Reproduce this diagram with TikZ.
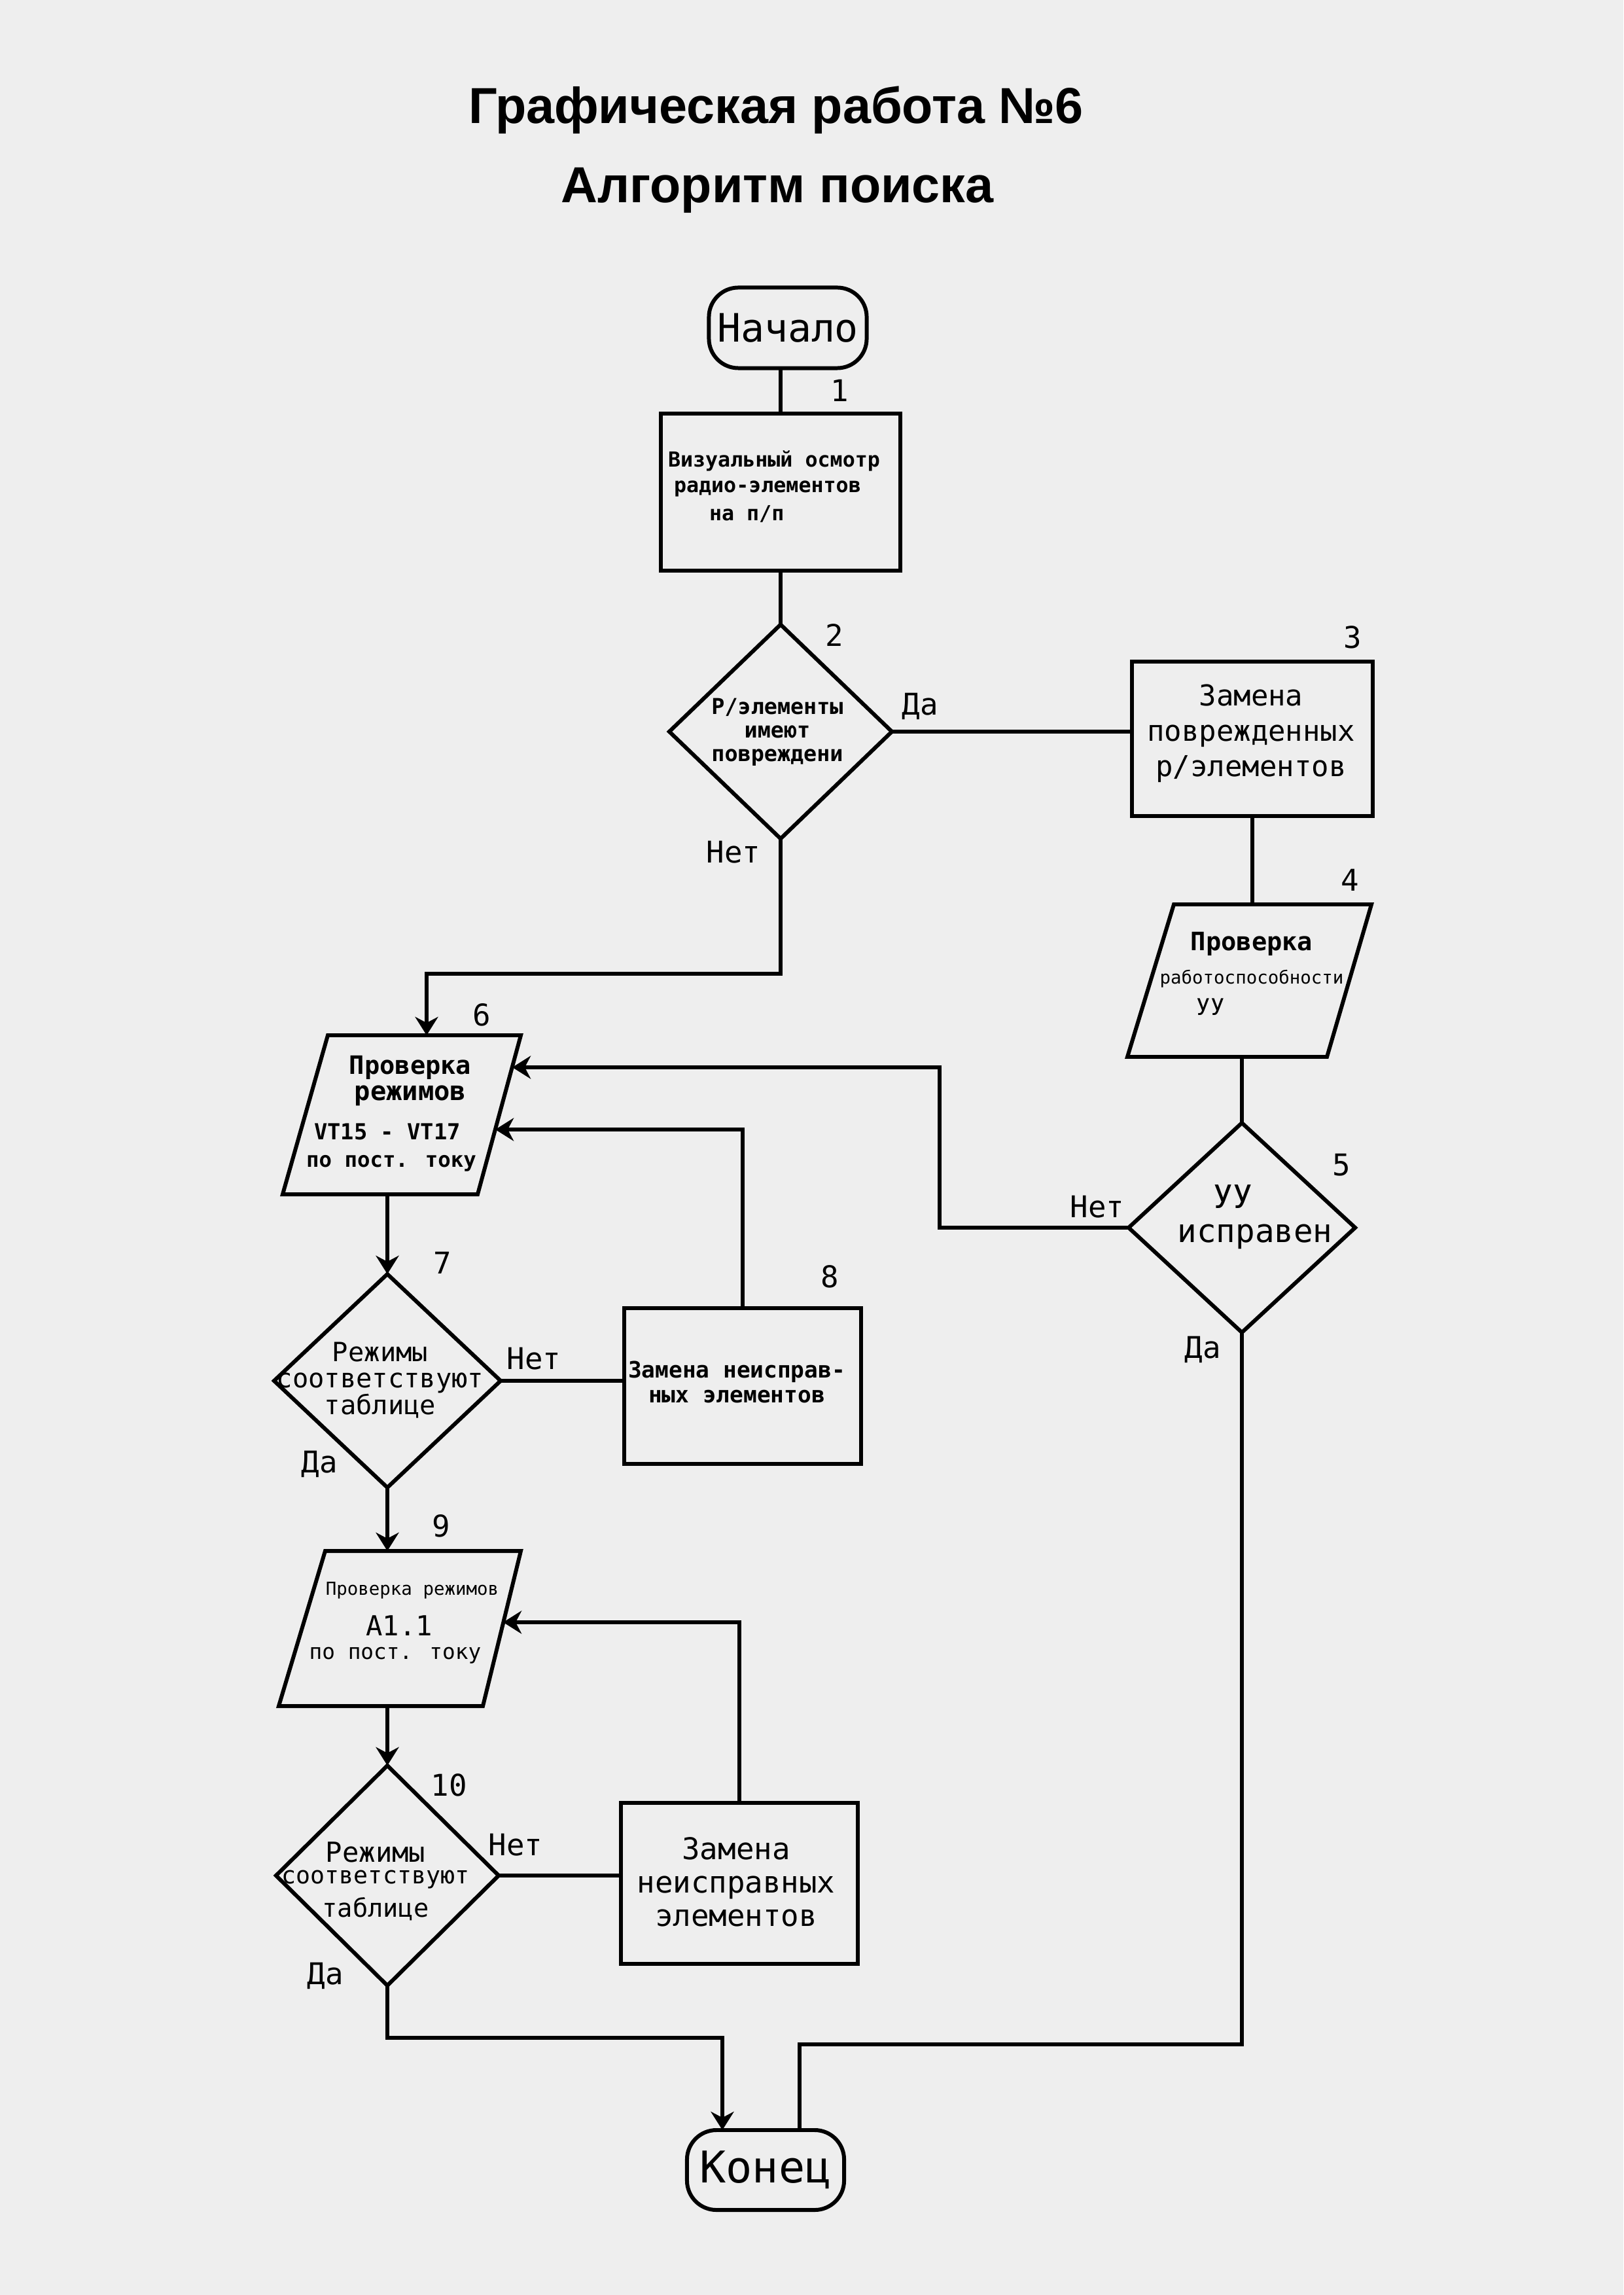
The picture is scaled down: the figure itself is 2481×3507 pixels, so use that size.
\documentclass[tikz,border=0pt]{standalone}
\usepackage{fontspec}
\setmainfont{DejaVu Sans Mono}
\newfontfamily\titlefont{Liberation Sans}
\usetikzlibrary{shapes.geometric,arrows.meta}
\definecolor{bg}{RGB}{238,238,238}
\newcommand{\fs}[1]{\fontsize{#1}{#1}\selectfont}
\begin{document}
\begin{tikzpicture}[x=0.01cm,y=-0.01cm,
  every node/.style={inner sep=0pt,outer sep=0pt},
  conn/.style={line width=1.7pt},
  arr/.style={conn,-{Stealth[length=8pt,width=10pt]}},
  blk/.style={draw,rectangle,line width=1.7pt},
  dia/.style={draw,diamond,line width=1.7pt},
  term/.style={draw,rectangle,rounded corners=0.45cm,line width=1.7pt},
  lbl/.style={font=\fs{13}},
  ttl/.style={font=\titlefont\bfseries\fs{22}}]
\fill[bg] (0,0) rectangle (2481,3507);
\useasboundingbox (0,0) rectangle (2481,3507);

% titles
\node[ttl] (t1) at (1186,168) {Графическая работа №6};
\node[ttl] (t2) at (1188,291) {Алгоритм поиска};

% start
\node[term,minimum width=2.41cm,minimum height=1.23cm,font=\fs{17}] (start) at (1204,501) {Начало};

% box 1
\node[blk,minimum width=3.66cm,minimum height=2.40cm] (b1) at (1193,752) {};
\node[anchor=west,font=\bfseries\fs{9}] (b1t1) at (1021,704) {Визуальный осмотр};
\node[anchor=west,font=\bfseries\fs{9}] (b1t2) at (1030,747) {радио-элементов};
\node[anchor=west,font=\bfseries\fs{9}] (b1t3) at (1084,785) {на п/п};
\node[lbl] (n1) at (1283,597) {1};
\draw[conn] (start.south -| b1.north) -- (b1.north);

% diamond 2
\node[dia,minimum width=3.40cm,minimum height=3.27cm] (d2) at (1193,1118) {};
\node[align=center,font=\bfseries\fontsize{9.5}{10.3}\selectfont] (d2t) at (1188,1119) {Р/элементы\\имеют\\повреждени};
\node[lbl] (n2) at (1275,971) {2};
\node[lbl] (da2) at (1406,1079) {Да};
\node[lbl] (net2) at (1121,1302) {Нет};
\draw[conn] (b1.south) -- (d2.north);

% box 3
\node[blk,minimum width=3.68cm,minimum height=2.36cm] (b3) at (1914,1129) {};
\node[align=center,font=\fontsize{12.5}{15.4}\selectfont] (b3t) at (1912,1121) {Замена\\поврежденных\\р/элементов};
\node[lbl] (n3) at (2067,974) {3};
\draw[conn] (d2.east) -- (d2.east -| b3.west);

% box 4 (parallelogram)
\coordinate (p4a) at (1794,1382);
\coordinate (p4b) at (2096,1382);
\coordinate (p4c) at (2028,1615);
\coordinate (p4d) at (1723,1615);
\coordinate (p4n) at (1914,1382);
\coordinate (p4s) at (1898,1615);
\draw[conn] (p4a) -- (p4b) -- (p4c) -- (p4d) -- cycle;
\node[font=\bfseries\fs{11}] (b4t1) at (1913,1442) {Проверка};
\node[font=\fs{7.8}] (b4t2) at (1913,1496) {работоспособности};
\node[font=\fs{10}] (b4t3) at (1850,1539) {УУ};
\node[lbl] (n4) at (2063,1345) {4};
\draw[conn] (b3.south) -- (p4n);

% diamond 5
\node[dia,minimum width=3.46cm,minimum height=3.20cm] (d5) at (1898,1876) {};
\node[font=\fs{14}] (d5t1) at (1884,1829) {УУ};
\node[font=\fs{14}] (d5t2) at (1918,1890) {исправен};
\node[lbl] (n5) at (2050,1780) {5};
\node[lbl] (net5) at (1677,1844) {Нет};
\node[lbl] (da5) at (1838,2062) {Да};
\draw[conn] (p4s) -- (d5.north);

% box 6 (parallelogram)
\coordinate (p6a) at (501,1582);
\coordinate (p6b) at (796,1582);
\coordinate (p6c) at (730,1825);
\coordinate (p6d) at (432,1825);
\coordinate (p6n) at (652,1582);
\coordinate (p6s) at (592,1825);
\coordinate (p6r1) at (783,1631);
\coordinate (p6r2) at (757,1726);
\draw[conn] (p6a) -- (p6b) -- (p6c) -- (p6d) -- cycle;
\node[font=\bfseries\fs{11}] (b6t1) at (627,1631) {Проверка};
\node[font=\bfseries\fs{11.5}] (b6t2) at (627,1674) {режимов};
\node[font=\bfseries\fs{9.6}] (b6t3) at (592,1729) {VT15 - VT17};
\node[font=\bfseries\fs{9.2}] (b6t4) at (598,1778) {по пост. току};
\node[lbl] (n6) at (736,1551) {6};

\coordinate (j2) at (652,1488);
\draw[arr] (d2.south) |- (j2) -- (p6n);
\coordinate (j5) at (1436,1631);
\draw[arr] (d5.west) -| (j5) -- (p6r1);

% diamond 7
\node[dia,minimum width=3.46cm,minimum height=3.26cm] (d7) at (592,2110) {};
\node[align=center,font=\fontsize{11.5}{11.4}\selectfont] (d7t) at (581,2109) {Режимы\\соответствуют\\таблице};
\node[lbl] (n7) at (676,1930) {7};
\node[lbl] (net7) at (816,2076) {Нет};
\node[lbl] (da7) at (488,2237) {Да};
\draw[arr] (p6s) -- (d7.north);

% box 8
\node[blk,minimum width=3.62cm,minimum height=2.38cm] (b8) at (1135,2118) {};
\node[align=center,font=\bfseries\fontsize{9.8}{11}\selectfont] (b8t) at (1126,2112) {Замена неисправ-\\ных элементов};
\node[lbl] (n8) at (1268,1951) {8};
\draw[conn] (d7.east) -- (d7.east -| b8.west);
\draw[arr] (b8.north) |- (p6r2);

% box 9 (parallelogram)
\coordinate (p9a) at (497,2370);
\coordinate (p9b) at (796,2370);
\coordinate (p9c) at (738,2607);
\coordinate (p9d) at (426,2607);
\coordinate (p9n) at (592,2370);
\coordinate (p9s) at (592,2607);
\coordinate (p9r) at (769,2479);
\draw[conn] (p9a) -- (p9b) -- (p9c) -- (p9d) -- cycle;
\node[font=\fs{7.8}] (b9t1) at (630,2430) {Проверка режимов};
\node[font=\fs{12}] (b9t2) at (610,2484) {А1.1};
\node[font=\fs{9.3}] (b9t3) at (604,2530) {по пост. току};
\node[lbl] (n9) at (674,2332) {9};
\draw[arr] (d7.south) -- (p9n);

% diamond 10
\node[dia,minimum width=3.40cm,minimum height=3.36cm] (d10) at (592,2866) {};
\node[font=\fs{12}] (d10t1) at (574,2830) {Режимы};
\node[font=\fs{10.4}] (d10t2) at (574,2872) {соответствуют};
\node[font=\fs{11}] (d10t3) at (574,2917) {таблице};
\node[lbl] (n10) at (686,2728) {10};
\node[lbl] (net10) at (788,2819) {Нет};
\node[lbl] (da10) at (497,3019) {Да};
\draw[arr] (p9s) -- (d10.north);

% box 10
\node[blk,minimum width=3.62cm,minimum height=2.45cm] (b10) at (1130,2878) {};
\node[align=center,font=\fontsize{13}{14.5}\selectfont] (b10t) at (1125,2876) {Замена\\неисправных\\элементов};
\draw[conn] (d10.east) -- (d10.east -| b10.west);
\draw[arr] (b10.north) |- (p9r);

% end
\node[term,minimum width=2.40cm,minimum height=1.22cm,font=\fs{19}] (end) at (1170,3316) {Конец};
\coordinate (j10) at (1104,3114);
\draw[arr] (d10.south) |- (j10) -- (j10 |- end.north);
\coordinate (j5b) at (1222,3124);
\draw[conn] (d5.south) |- (j5b) -- (j5b |- end.north);
\end{tikzpicture}
\end{document}
